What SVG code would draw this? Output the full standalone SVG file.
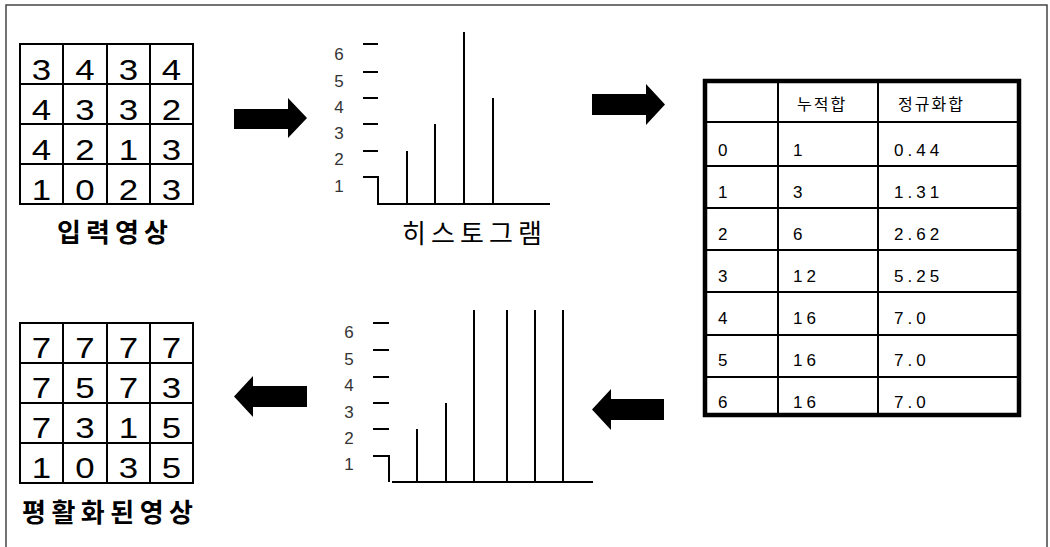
<svg xmlns="http://www.w3.org/2000/svg" width="1050" height="547" viewBox="0 0 1050 547">
  <style>
    .frame { fill: none; stroke: #444; stroke-width: 1.5; }
    .grid { fill: none; stroke: #000; stroke-width: 2; }
    .digit { font-family: "Liberation Sans", Arial, sans-serif; font-size: 29px; fill: #000; text-anchor: middle; }
    .caption { font-family: "Noto Sans CJK KR", "Noto Sans", sans-serif; font-size: 26px; fill: #000; }
    .bold { font-weight: 700; }
    .axis { fill: none; stroke: #000; stroke-width: 2; }
    .tick { font-family: "Liberation Sans", Arial, sans-serif; font-size: 17px; fill: #333; text-anchor: middle; }
    .tbl-outer { fill: #fff; stroke: #000; stroke-width: 4.5; }
    .tbl-line { stroke: #000; stroke-width: 2; }
    .cell { font-family: "Liberation Sans", Arial, sans-serif; font-size: 17px; fill: #000; letter-spacing: 4px; }
    .head { font-family: "Noto Sans CJK KR", "Noto Sans", sans-serif; font-size: 16px; fill: #000; letter-spacing: 2px; }
    .arrow { fill: #000; }
  </style>

  <rect width="1050" height="547" fill="#fff"/>

  <!-- outer frame, open at the bottom -->
  <path class="frame" d="M6,547 V5 H1047 V547"/>

  <!-- input image 4x4 (digits drawn in a horizontally widened face) -->
  <g id="input-image">
    <rect class="grid" x="20" y="44" width="173" height="160"/>
    <path class="grid" d="M63,44 V204 M107,44 V204 M150,44 V204 M20,84 H193 M20,124 H193 M20,164 H193"/>
    <g transform="scale(1.2,1)">
      <text class="digit" x="34.58" y="80">3</text><text class="digit" x="70.83" y="80">4</text><text class="digit" x="107.08" y="80">3</text><text class="digit" x="142.92" y="80">4</text>
      <text class="digit" x="34.58" y="120">4</text><text class="digit" x="70.83" y="120">3</text><text class="digit" x="107.08" y="120">3</text><text class="digit" x="142.92" y="120">2</text>
      <text class="digit" x="34.58" y="160">4</text><text class="digit" x="70.83" y="160">2</text><text class="digit" x="107.08" y="160">1</text><text class="digit" x="142.92" y="160">3</text>
      <text class="digit" x="34.58" y="200">1</text><text class="digit" x="70.83" y="200">0</text><text class="digit" x="107.08" y="200">2</text><text class="digit" x="142.92" y="200">3</text>
    </g>
    <text class="caption bold" x="57" y="242" textLength="111" lengthAdjust="spacing">입력영상</text>
  </g>

  <!-- histogram -->
  <g id="histogram">
    <path class="axis" d="M363,44 H378 M363,72 H378 M363,98 H378 M363,124 H378 M363,151 H378 M363,177 H378 V204 H550"/>
    <path class="axis" d="M407,204 V151 M435,204 V124 M464,204 V32 M493,204 V98"/>
    <text class="tick" x="339" y="60">6</text>
    <text class="tick" x="339" y="87">5</text>
    <text class="tick" x="339" y="113">4</text>
    <text class="tick" x="339" y="139">3</text>
    <text class="tick" x="339" y="165">2</text>
    <text class="tick" x="339" y="192">1</text>
    <text class="caption" x="402" y="243" textLength="140" lengthAdjust="spacing">히스토그램</text>
  </g>

  <!-- cumulative / normalised sum table -->
  <g id="cdf-table">
    <rect class="tbl-outer" x="705" y="81" width="314" height="334"/>
    <path class="tbl-line" d="M778,81 V415 M878,81 V415 M705,122 H1019 M705,166 H1019 M705,208 H1019 M705,250 H1019 M705,292 H1019 M705,335 H1019 M705,377 H1019"/>
    <text class="head" x="797" y="110">누적합</text>
    <text class="head" x="898" y="110">정규화합</text>
    <text class="cell" x="718" y="156">0</text><text class="cell" x="793" y="156">1</text><text class="cell" x="894" y="156">0.44</text>
    <text class="cell" x="718" y="198">1</text><text class="cell" x="793" y="198">3</text><text class="cell" x="894" y="198">1.31</text>
    <text class="cell" x="718" y="240">2</text><text class="cell" x="793" y="240">6</text><text class="cell" x="894" y="240">2.62</text>
    <text class="cell" x="718" y="282">3</text><text class="cell" x="793" y="282">12</text><text class="cell" x="894" y="282">5.25</text>
    <text class="cell" x="718" y="324">4</text><text class="cell" x="793" y="324">16</text><text class="cell" x="894" y="324">7.0</text>
    <text class="cell" x="718" y="366">5</text><text class="cell" x="793" y="366">16</text><text class="cell" x="894" y="366">7.0</text>
    <text class="cell" x="718" y="408">6</text><text class="cell" x="793" y="408">16</text><text class="cell" x="894" y="408">7.0</text>
  </g>

  <!-- equalised histogram -->
  <g id="equalized-histogram">
    <path class="axis" d="M373,323 H389 M373,350 H389 M373,377 H389 M373,403 H389 M373,429 H389 M373,456 H389 V482 M392,482 H593"/>
    <path class="axis" d="M417,482 V429 M446,482 V403 M474,482 V310 M507,482 V310 M535,482 V310 M563,482 V310"/>
    <text class="tick" x="349" y="338">6</text>
    <text class="tick" x="349" y="365">5</text>
    <text class="tick" x="349" y="391">4</text>
    <text class="tick" x="349" y="418">3</text>
    <text class="tick" x="349" y="444">2</text>
    <text class="tick" x="349" y="470">1</text>
  </g>

  <!-- equalised image 4x4 -->
  <g id="equalized-image">
    <rect class="grid" x="20" y="323" width="173" height="160"/>
    <path class="grid" d="M63,323 V483 M107,323 V483 M150,323 V483 M20,363 H193 M20,403 H193 M20,443 H193"/>
    <g transform="scale(1.2,1)">
      <text class="digit" x="34.58" y="358">7</text><text class="digit" x="70.83" y="358">7</text><text class="digit" x="107.08" y="358">7</text><text class="digit" x="142.92" y="358">7</text>
      <text class="digit" x="34.58" y="398">7</text><text class="digit" x="70.83" y="398">5</text><text class="digit" x="107.08" y="398">7</text><text class="digit" x="142.92" y="398">3</text>
      <text class="digit" x="34.58" y="438">7</text><text class="digit" x="70.83" y="438">3</text><text class="digit" x="107.08" y="438">1</text><text class="digit" x="142.92" y="438">5</text>
      <text class="digit" x="34.58" y="478">1</text><text class="digit" x="70.83" y="478">0</text><text class="digit" x="107.08" y="478">3</text><text class="digit" x="142.92" y="478">5</text>
    </g>
    <text class="caption bold" x="22" y="522" font-size="24" textLength="171" lengthAdjust="spacing">평활화된영상</text>
  </g>

  <!-- block arrows between the stages -->
  <g id="connectors">
    <polygon class="arrow" points="234,109 288,109 288,98 307,118 288,138 288,129 234,129"/>
    <polygon class="arrow" points="592,94 646,94 646,84 665,104.5 646,125 646,115 592,115"/>
    <polygon class="arrow" points="664,399 611,399 611,389 592,409.5 611,430 611,420 664,420"/>
    <polygon class="arrow" points="307,386 253,386 253,376 234,396.5 253,417 253,407 307,407"/>
  </g>
</svg>
